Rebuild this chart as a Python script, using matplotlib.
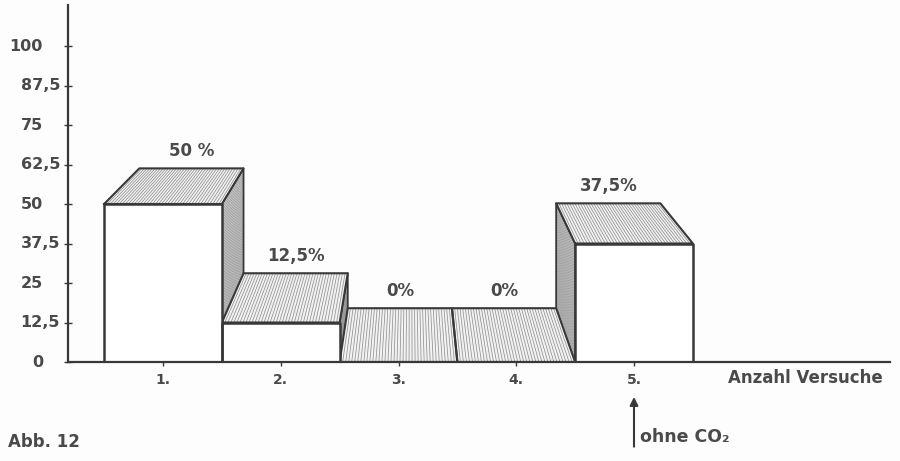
import numpy as np
import matplotlib.pyplot as plt

# Daten aus Abb. 12
versuche = ['1.', '2.', '3.', '4.', '5.']
anteil = [50, 12.5, 0, 0, 37.5]
anteil_text = ['50 %', '12,5%', '0%', '0%', '37,5%']
y_ticks = [0, 12.5, 25, 37.5, 50, 62.5, 75, 87.5, 100]
y_labels = ['0', '12,5', '25', '37,5', '50', '62,5', '75', '87,5', '100']

# Perspektive (Fluchtpunkt, Tiefe)
VX, VY, K = 3.1, 148.0, 0.115
ink = '#383838'
txt = '#4a4a4a'
font = ['DejaVu Sans']


def proj(x, y):
    return x + (VX - x) * K, y + (VY - y) * K


fig = plt.figure(figsize=(9, 4.61), dpi=100)
fig.patch.set_facecolor('#fdfdfd')
ax = fig.add_axes([68 / 900, 99 / 461, 822 / 900, 357 / 461])
ax.set_facecolor('none')
ax.set_xlim(1 - 95 / 117.75, 1 + 727 / 117.75)
ax.set_ylim(0, 357 / 39.5 * 12.5)

pos = np.arange(1, len(anteil) + 1)

for p, v, lab in zip(pos, anteil, anteil_text):
    xl, xr = p - 0.5, p + 0.5
    # Seitenflaeche
    if v > 0:
        sx = xr if p < VX else xl
        bx, by = proj(sx, v)
        b0x, b0y = proj(sx, 0)
        ax.fill([sx, sx, bx, b0x], [0, v, by, b0y], color='#d6d6d6', zorder=1, lw=0)
        for yy in np.arange(0, v, 0.9):
            px, py = proj(sx, yy)
            ax.plot([sx, px], [yy, py], color='#959595', lw=0.5, zorder=1.2)
        ax.plot([sx, sx, bx, b0x], [0, v, by, b0y], color=ink, lw=1.3, zorder=1.4)
    # Deckflaeche
    tlx, tly = proj(xl, v)
    trx, try_ = proj(xr, v)
    ax.fill([xl, xr, trx, tlx], [v, v, try_, tly], color='#f2f2f2', zorder=2, lw=0)
    for xx in np.linspace(xl, xr, 40):
        px, py = proj(xx, v)
        ax.plot([xx, px], [v, py], color='#909090', lw=0.55, zorder=2.2)
    ax.plot([xl, xr, trx, tlx, xl], [v, v, try_, tly, v], color=ink, lw=1.5, zorder=2.5)
    # Vorderflaeche
    if v > 0:
        ax.fill([xl, xr, xr, xl], [0, 0, v, v], color='white', zorder=3, lw=0)
        ax.plot([xl, xl, xr, xr], [0, v, v, 0], color=ink, lw=1.8, zorder=3.5)
    # Prozentangabe
    ax.annotate(lab, ((tlx + trx) / 2, tly), xytext=(0, 6), textcoords='offset points',
                ha='center', va='bottom', fontsize=12, fontweight='bold',
                color=txt, family=font, zorder=5)

for s in ['top', 'right']:
    ax.spines[s].set_visible(False)
for s in ['left', 'bottom']:
    ax.spines[s].set_color(ink)
    ax.spines[s].set_linewidth(1.6)
    ax.spines[s].set_zorder(4)

ax.set_yticks(y_ticks, labels=[])
ax.tick_params(axis='y', direction='inout', length=6, width=1, color=ink)
for t, lab in zip(y_ticks, y_labels):
    if ',' in lab:
        x_lab = -8 / 822
    else:
        x_lab = -25 / 822
    ax.text(x_lab, t, lab, transform=ax.get_yaxis_transform(), ha='right', va='center',
            fontsize=11.5, fontweight='bold', color=txt, family=font)

ax.set_xticks(pos, labels=versuche)
ax.tick_params(axis='x', direction='out', length=3, width=1, color=ink, pad=5,
               labelsize=10, labelcolor=txt)
for t in ax.get_xticklabels():
    t.set_fontweight('bold')
    t.set_family(font)

fig.text(883 / 900, 0.18, 'Anzahl Versuche', ha='right', va='center', fontsize=12,
         fontweight='bold', color=txt, family=font)
fig.text(8 / 900, 0.041, 'Abb. 12', ha='left', va='center', fontsize=12,
         fontweight='bold', color=txt, family=font)

# Pfeil bei Versuch 5
ax.annotate('', xy=(5, 0.145), xycoords=('data', 'figure fraction'),
            xytext=(5, 0.025), textcoords=('data', 'figure fraction'),
            arrowprops=dict(arrowstyle='-|>', color=ink, lw=1.5, mutation_scale=12))
fig.text(640 / 900, 0.052, 'ohne CO\u2082', ha='left', va='center', fontsize=12.5,
         fontweight='bold', color=txt, family=font)

fig.savefig('out.png', dpi=100, facecolor=fig.get_facecolor())
